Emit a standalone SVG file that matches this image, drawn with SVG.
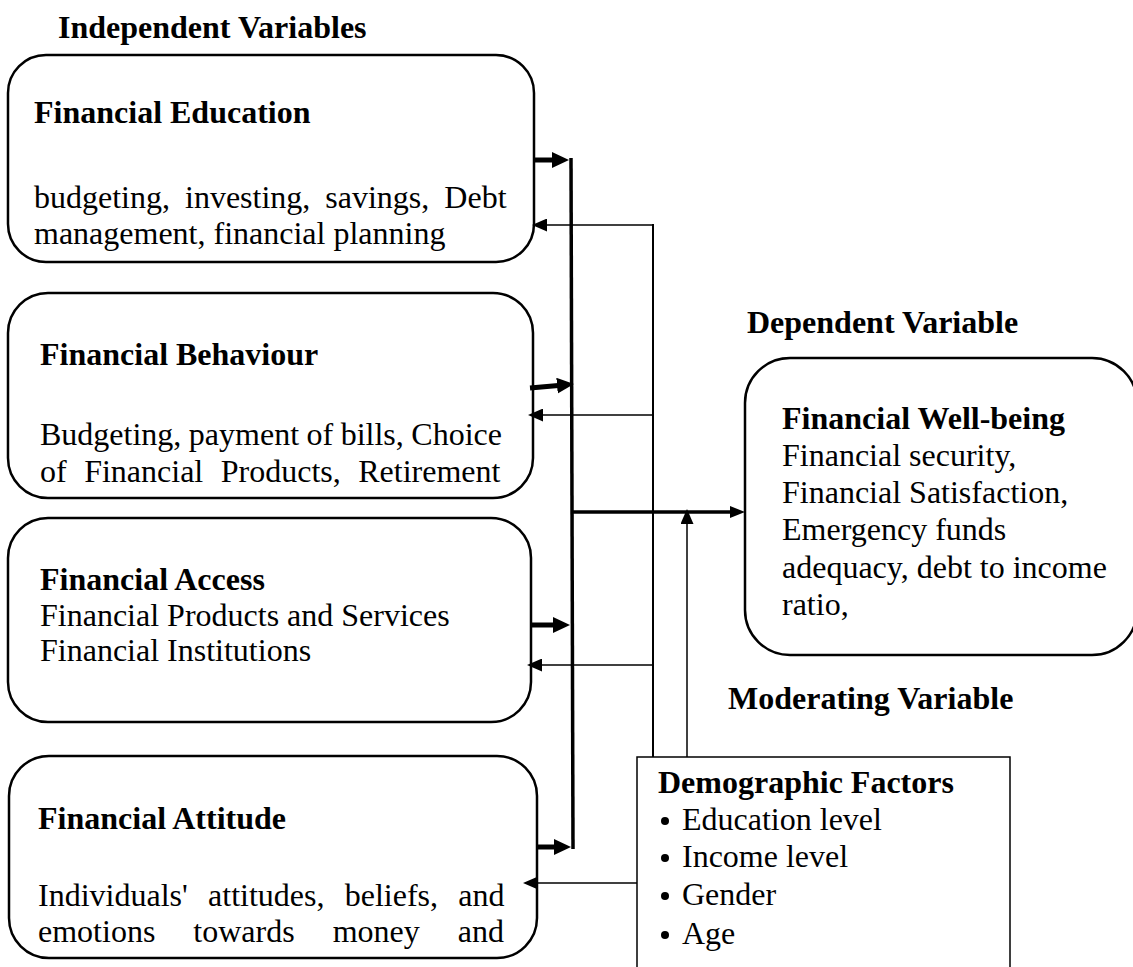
<svg xmlns="http://www.w3.org/2000/svg" width="1133" height="967" viewBox="0 0 1133 967">
  <style>
    .box { fill: #ffffff; stroke: #000000; stroke-width: 2.5; }
    .plain { fill: #ffffff; stroke: #000000; stroke-width: 1.5; }
    text { font-family: "Liberation Serif", "Times New Roman", serif; font-size: 32px; fill: #000000; }
    .b { font-weight: bold; }
    .thick { stroke: #000000; stroke-width: 3.5; fill: none; }
    .fat { stroke: #000000; stroke-width: 5; fill: none; }
    .thin { stroke: #000000; stroke-width: 1.5; fill: none; }
  </style>
  <defs>
    <marker id="headBig" markerUnits="userSpaceOnUse" markerWidth="17" markerHeight="16" refX="7" refY="8" orient="auto">
      <path d="M0,0 L17,8 L0,16 Z" fill="#000000"/>
    </marker>
    <marker id="headMid" markerUnits="userSpaceOnUse" markerWidth="15" markerHeight="12" refX="7" refY="6" orient="auto">
      <path d="M0,0 L15,6 L0,12 Z" fill="#000000"/>
    </marker>
    <marker id="headThin" markerUnits="userSpaceOnUse" markerWidth="15" markerHeight="13" refX="5" refY="6.5" orient="auto">
      <path d="M0,0 L15,6.5 L0,13 Z" fill="#000000"/>
    </marker>
  </defs>

  <!-- section headings -->
  <text class="b" x="58" y="38">Independent Variables</text>
  <text class="b" x="747" y="333">Dependent Variable</text>
  <text class="b" x="728" y="709">Moderating Variable</text>

  <g id="financial-education">
    <rect class="box" x="8" y="55" width="526" height="207" rx="38"/>
    <text class="b" x="34" y="123">Financial Education</text>
    <text x="34" y="208" style="word-spacing:7px">budgeting, investing, savings, Debt</text>
    <text x="34" y="244">management, financial planning</text>
  </g>

  <g id="financial-behaviour">
    <rect class="box" x="8" y="293" width="525" height="205" rx="40"/>
    <text class="b" x="40" y="365">Financial Behaviour</text>
    <text x="40" y="445" style="word-spacing:-0.5px">Budgeting, payment of bills, Choice</text>
    <text x="40" y="482" style="word-spacing:9.5px">of Financial Products, Retirement</text>
  </g>

  <g id="financial-access">
    <rect class="box" x="8" y="518" width="523" height="204" rx="40"/>
    <text class="b" x="40" y="590">Financial Access</text>
    <text x="40" y="626">Financial Products and Services</text>
    <text x="40" y="661">Financial Institutions</text>
  </g>

  <g id="financial-attitude">
    <rect class="box" x="9" y="756" width="528" height="202" rx="40"/>
    <text class="b" x="38" y="829">Financial Attitude</text>
    <text x="38" y="906" style="word-spacing:12.3px">Individuals' attitudes, beliefs, and</text>
    <text x="38" y="942" style="word-spacing:30px">emotions towards money and</text>
  </g>

  <g id="financial-well-being">
    <rect class="box" x="745" y="358" width="392" height="297" rx="45"/>
    <text class="b" x="782" y="429">Financial Well-being</text>
    <text x="782" y="466">Financial security,</text>
    <text x="782" y="503">Financial Satisfaction,</text>
    <text x="782" y="540">Emergency funds</text>
    <text x="782" y="578">adequacy, debt to income</text>
    <text x="782" y="615">ratio,</text>
  </g>

  <g id="demographic-factors">
    <rect class="plain" x="637" y="757" width="373" height="230"/>
    <text class="b" x="658" y="793">Demographic Factors</text>
    <circle cx="665" cy="821" r="4"/>
    <text x="682" y="830">Education level</text>
    <circle cx="665" cy="858" r="4"/>
    <text x="682" y="867">Income level</text>
    <circle cx="665" cy="896" r="4"/>
    <text x="682" y="905">Gender</text>
    <circle cx="665" cy="935" r="4"/>
    <text x="682" y="944">Age</text>
  </g>

  <g id="connectors">
    <!-- collecting bus from the independent variables -->
    <line class="thick" x1="571" y1="158" x2="573" y2="849"/>
    <line class="fat" x1="535" y1="160" x2="559" y2="160" marker-end="url(#headBig)"/>
    <line class="fat" x1="530" y1="388" x2="564" y2="385" marker-end="url(#headBig)"/>
    <line class="fat" x1="532" y1="625" x2="560" y2="625" marker-end="url(#headBig)"/>
    <line class="fat" x1="537" y1="847" x2="561" y2="847" marker-end="url(#headBig)"/>
    <!-- bus into the dependent variable -->
    <line class="thick" x1="572" y1="512" x2="737" y2="512" marker-end="url(#headMid)"/>
    <!-- moderator feedback to each independent variable -->
    <line x1="653" y1="224" x2="653" y2="757" stroke="#000000" stroke-width="2"/>
    <line class="thin" x1="653" y1="225" x2="542" y2="225" marker-end="url(#headThin)"/>
    <line class="thin" x1="653" y1="415" x2="538" y2="415" marker-end="url(#headThin)"/>
    <line class="thin" x1="653" y1="665" x2="537" y2="665" marker-end="url(#headThin)"/>
    <line class="thin" x1="637" y1="883" x2="533" y2="883" marker-end="url(#headThin)"/>
    <!-- moderator acting on the main path -->
    <line class="thin" x1="687" y1="757" x2="687" y2="519" marker-end="url(#headThin)"/>
  </g>
</svg>
